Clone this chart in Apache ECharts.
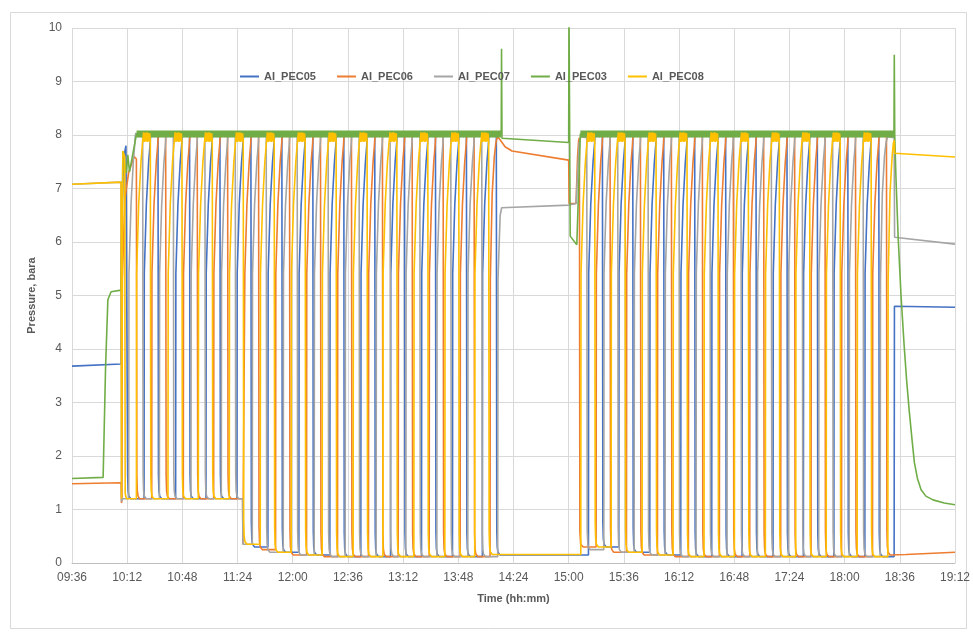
<!DOCTYPE html>
<html><head><meta charset="utf-8">
<script src="https://cdn.jsdelivr.net/npm/echarts/dist/echarts.min.js"></script>
<style>html,body{margin:0;padding:0;background:#fff}#c{width:973px;height:640px}</style>
</head><body><div id="c"></div>
<script>
// ---------- axis ticks ----------
const timeTicks = ["09:36","10:12","10:48","11:24","12:00","12:36","13:12","13:48","14:24","15:00","15:36","16:12","16:48","17:24","18:00","18:36","19:12"];
const pressureTicks = [0,1,2,3,4,5,6,7,8,9,10];
const seriesNames = ["AI_PEC05","AI_PEC06","AI_PEC07","AI_PEC03","AI_PEC08"];

// ---------- cycle shape (offset min from plateau centre, bara) ----------
const riseOffsets = [-6.0, -5.85, -4.5, -3.0, -2.0];
const riseValues  = [null, 5.4, 6.7, 7.5, 7.85];
const plateauOffsets = [-1.8, -1.3, -0.8, -0.3, 0.2, 0.7, 1.2, 1.7, 2.2, 2.7, 3.1];
const plateau08    = [7.88, 8.05, 7.87, 8.04, 7.88, 8.05, 7.87, 8.04, 7.88, 8.03, 7.89];
const plateauOther = [7.97, 8.04, 7.96, 8.03, 7.97, 8.04, 7.96, 8.03, 7.97, 8.02, 7.96];
const dropOffsets = [3.4, 3.7, 4.2, 5.5];
const dropAbove   = [0.45, 0.15, 0.05, 0.0];

// ---------- AI_PEC05 (blue) ----------
const peaks05 = ["10:29.0","10:49.6","11:09.4","11:29.6","11:49.8","12:10.0","12:30.2","12:50.4","13:09.8","13:30.0","13:50.2","14:09.7",
  "15:18.9","15:38.7","15:58.9","16:19.1","16:39.3","16:59.1","17:19.3","17:39.1","17:59.0","18:19.2"];
const lows05 = [1.2,1.2,1.2,0.3,0.2,0.15,0.12,0.12,0.12,0.12,0.12,0.15, 0.3,0.2,0.15,0.12,0.12,0.12,0.12,0.12,0.12,0.12];
const extra05 = [["09:36",3.68],["10:08.0",3.72],["10:08.2",6.0],["10:09.5",7.4],["10:10.5",7.7],["10:11.2",7.8],["10:12.0",7.8],
  ["10:12.3",1.65],["10:12.6",1.35],["10:13.1",1.25],["10:14.3",1.2],
  ["18:32.3",0.12],["18:32.5",4.8],["19:12",4.78]];

// ---------- AI_PEC06 (orange) ----------
const peaks06 = ["10:34.0","10:54.6","11:14.4","11:34.6","11:54.8","12:15.0","12:35.2","12:55.4","13:14.8","13:35.0","13:55.2",
  "15:23.9","15:43.7","16:03.9","16:24.1","16:44.3","17:04.1","17:24.3","17:44.1","18:04.0","18:24.2"];
const lows06 = [1.2,1.2,1.2,0.25,0.15,0.12,0.12,0.12,0.12,0.12,0.12, 0.2,0.15,0.12,0.12,0.12,0.12,0.12,0.12,0.12,0.15];
const extra06 = [["09:36",1.48],["10:08.0",1.5],["10:08.3",1.12],["10:08.6",1.2],
  ["10:08.8",5.3],["10:10.5",6.8],["10:13.0",7.3],["10:16.5",7.6],["10:18.0",7.55],["10:18.3",1.65],["10:18.6",1.35],["10:19.1",1.25],["10:20.1",1.2],
  ["11:27.3",1.2],["11:27.5",0.35],
  ["14:08.7",0.12],["14:08.9",5.3],["14:10.1",6.9],["14:11.5",7.6],["14:12.5",7.85],["14:13.5",7.97],["14:15.0",7.92],["14:16.2",7.95],
  ["14:18.5",7.78],["14:23.0",7.70],["15:00.0",7.53],["15:00.3",6.72],["15:04.8",6.72],["15:05.8",7.6],["15:06.5",7.9],["15:07.0",7.95],
  ["15:07.3",0.6],["15:07.8",0.35],["15:09.5",0.3],
  ["18:40",0.16],["19:12",0.2]];

// ---------- AI_PEC07 (grey) ----------
const peaks07 = ["10:19.0","10:39.0","10:59.6","11:19.4","11:39.6","11:59.8","12:20.0","12:40.2","13:00.4","13:19.8","13:40.0","14:00.2",
  "15:28.9","15:48.7","16:08.9","16:29.1","16:49.3","17:09.1","17:29.3","17:49.1","18:09.0"];
const lows07 = [1.2,1.2,1.2,1.2,0.2,0.15,0.12,0.12,0.12,0.12,0.12,0.12, 0.2,0.15,0.12,0.12,0.12,0.12,0.12,0.12,0.12];
const extra07 = [["09:36",7.08],["10:08.0",7.12],["10:08.3",1.15],["10:09.0",1.2],
  ["11:27.3",1.2],["11:27.5",0.35],
  ["14:13.7",0.12],["14:13.9",5.3],["14:15.3",6.5],["14:16.3",6.64],["15:00.3",6.69],["15:04.8",6.72],["15:06.8",7.85],["15:08.0",7.97],
  ["15:11.8",7.95],["15:12.1",0.6],["15:12.6",0.3],["15:14.0",0.25],
  ["18:23.2",0.12],["18:23.4",5.3],["18:24.6",6.9],["18:26.0",7.6],["18:27.0",7.85],["18:28.0",7.97],["18:32.3",7.95],["18:32.6",6.09],["19:12",5.96]];

// ---------- AI_PEC08 (yellow) ----------
const peaks08 = ["10:24.0","10:44.6","11:04.4","11:24.6","11:44.8","12:05.0","12:25.2","12:45.4","13:04.8","13:25.0","13:45.2","14:04.7",
  "15:13.9","15:33.7","15:53.9","16:14.1","16:34.3","16:54.1","17:14.3","17:34.1","17:54.0","18:14.2"];
const lows08 = [1.2,1.2,1.2,0.35,0.2,0.15,0.12,0.12,0.12,0.12,0.12,0.16, 0.3,0.2,0.15,0.12,0.12,0.12,0.12,0.12,0.12,0.12];
const extra08 = [["09:36",7.08],["10:08.0",7.12],["10:08.3",1.2],["10:09.2",7.7],["10:10.4",7.6],["10:10.7",1.3],["10:11.5",1.2],
  ["18:28.2",0.12],["18:28.4",5.3],["18:29.6",6.9],["18:31.0",7.6],["18:31.8",7.85],["18:32.4",7.9],["18:32.6",7.66],["19:12",7.59]];

// ---------- AI_PEC03 (green, product pressure) ----------
const green03 = [["09:36",1.58],["09:56.3",1.6],["09:57.9",3.66],["09:59.4",4.92],["10:01.5",5.07],["10:08.0",5.1],["10:09.2",7.69],
  ["10:11.4",7.29],["10:12.4",7.63],["10:13.5",7.31],["10:18.1",8.02],["14:16.0",8.02],["14:16.2",9.61],["14:16.5",7.94],["15:00.0",7.86],
  ["15:00.2",10.4],["15:01.0",6.11],["15:05.3",5.95],["15:07.6",8.02],["18:32.2",8.02],["18:32.4",9.5],["18:32.7",8.0],["18:33.5",7.2],
  ["18:34.9",6.11],["18:36.8",5.0],["18:38.8",4.08],["18:40.5",3.4],["18:42.2",2.83],["18:44.0",2.3],["18:45.5",1.88],["18:47.5",1.58],
  ["18:49.9",1.37],["18:53.0",1.25],["18:57.6",1.18],["19:05",1.12],["19:12",1.09]];
const green03Band = [["10:18.1",8.02],["14:16.0",8.02],["14:40","-"],["15:07.6",8.02],["18:32.2",8.02]];

// ---------- build ----------
function tm(s){const p=s.split(':');return (+p[0])*60+parseFloat(p[1]);}
function buildBed(peaks, lows, extra, plateau){
  const pts = extra.map(e=>[tm(e[0]), e[1]]);
  peaks.forEach((p,i)=>{
    const P = tm(p), L = lows[i];
    riseOffsets.forEach((o,j)=>pts.push([P+o, riseValues[j]]));
    plateauOffsets.forEach((o,j)=>pts.push([P+o, plateau[j]]));
    dropOffsets.forEach((o,j)=>pts.push([P+o, +(L+dropAbove[j]).toFixed(3)]));
  });
  pts.sort((a,b)=>a[0]-b[0]);
  for(let i=0;i<pts.length;i++){ if(pts[i][1]===null) pts[i][1] = i>0 ? pts[i-1][1] : 0; }
  return pts;
}
const d05 = buildBed(peaks05, lows05, extra05, plateauOther);
const d06 = buildBed(peaks06, lows06, extra06, plateauOther);
const d07 = buildBed(peaks07, lows07, extra07, plateauOther);
const d08 = buildBed(peaks08, lows08, extra08, plateau08);
const d03 = green03.map(e=>[tm(e[0]), e[1]]);
const d03b = green03Band.map(e=>[tm(e[0]), e[1]]);

const FONT = 'Liberation Sans';
const colors = {AI_PEC05:'#4472C4',AI_PEC06:'#ED7D31',AI_PEC07:'#A5A5A5',AI_PEC03:'#70AD47',AI_PEC08:'#FFC000'};
function lineSeries(name, data, width, extra){
  return Object.assign({name, type:'line', data, showSymbol:false, symbol:'none', animation:false,
    lineStyle:{width, color:colors[name]}, itemStyle:{color:colors[name]}, emphasis:{disabled:true}}, extra||{});
}
const t0 = tm(timeTicks[0]), t1 = tm(timeTicks[timeTicks.length-1]);

const chart = echarts.init(document.getElementById('c'), null, {renderer:'canvas'});
chart.setOption({
  animation:false,
  backgroundColor:'#fff',
  textStyle:{fontFamily:FONT},
  graphic:[{type:'rect', shape:{x:10.5,y:12.5,width:956,height:616}, style:{fill:null, stroke:'#d9d9d9', lineWidth:1}, silent:true}],
  grid:{left:72, right:16, top:28, bottom:77, containLabel:false},
  legend:{data:seriesNames, left:235, top:66, icon:'rect', itemWidth:19, itemHeight:2, itemGap:21,
    textStyle:{fontFamily:FONT, fontSize:11, fontWeight:'bold', color:'#595959'}},
  xAxis:{type:'value', min:t0, max:t1, interval:36,
    name:'Time (hh:mm)', nameLocation:'middle', nameGap:30,
    nameTextStyle:{fontFamily:FONT, fontSize:11, fontWeight:'bold', color:'#595959'},
    axisLine:{show:true, lineStyle:{color:'#bfbfbf'}}, axisTick:{show:false},
    axisLabel:{fontFamily:FONT, fontSize:12, color:'#595959', margin:9,
      formatter:v=>timeTicks[Math.round((v-t0)/36)]||''},
    splitLine:{show:true, lineStyle:{color:'#d9d9d9'}}},
  yAxis:{type:'value', min:pressureTicks[0], max:pressureTicks[pressureTicks.length-1], interval:1,
    name:'Pressure, bara', nameLocation:'middle', nameGap:33, nameRotate:90,
    nameTextStyle:{fontFamily:FONT, fontSize:11, fontWeight:'bold', color:'#595959'},
    axisLine:{show:false}, axisTick:{show:false},
    axisLabel:{fontFamily:FONT, fontSize:12, color:'#595959', margin:10},
    splitLine:{show:true, lineStyle:{color:'#d9d9d9'}}},
  series:[
    lineSeries('AI_PEC05', d05, 1.6),
    lineSeries('AI_PEC06', d06, 1.6),
    lineSeries('AI_PEC07', d07, 1.6),
    lineSeries('AI_PEC03', d03, 1.6),
    lineSeries('AI_PEC03', d03b, 7, {lineStyle:{width:7, color:colors.AI_PEC03, cap:'butt'}}),
    lineSeries('AI_PEC08', d08, 1.6)
  ]
});
</script></body></html>
